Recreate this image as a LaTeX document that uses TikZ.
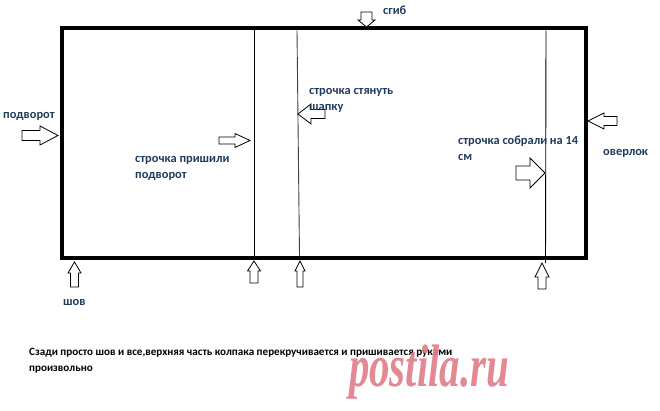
\documentclass[tikz,border=0pt]{standalone}
\usepackage{fontspec}
\setmainfont{Carlito}
\newfontfamily\wmfont{Liberation Serif}
\definecolor{lbl}{HTML}{1F3A5C}
\definecolor{wm}{RGB}{224,124,136}
\tikzset{
  arr/.style={draw=black, fill=white, line width=0.8pt, line join=miter},
  lab/.style={text=lbl, font=\bfseries\fontsize{12.4}{16}\selectfont, inner sep=0pt, anchor=west, align=left},
  seam/.style={line width=0.9pt},
}
% #1 name, #2 x, #3 y (tail centre), #4 rotation, #5 length, #6 head width, #7 shaft width, #8 head length
\newcommand\blockarrow[8]{%
  \begin{scope}[shift={(#2,#3)}, rotate=#4]
    \coordinate (#1) at (0,0);
    \draw[arr] (0,-#7/2) -- (#5-#8,-#7/2) -- (#5-#8,-#6/2) -- (#5,0)
      -- (#5-#8,#6/2) -- (#5-#8,#7/2) -- (0,#7/2) -- cycle;
  \end{scope}}
\begin{document}
\begin{tikzpicture}[x=1pt,y=-1pt]
\useasboundingbox (0,0) rectangle (660,411);
% outer rectangle
\coordinate (tl) at (62,28.5);
\coordinate (br) at (586,258);
\draw[line width=4pt] (tl) rectangle (br);
% seams
\coordinate (s1t) at (254,30.5); \coordinate (s1b) at (254,256);
\coordinate (s2t) at (297,30.5); \coordinate (s2b) at (299.5,256);
\coordinate (s3t) at (546,30.5); \coordinate (s3b) at (545.5,263);
\draw[seam] (s1t) -- (s1b);
\draw[seam, black!75] (s2t) -- (s2b);
\draw[seam] (s3t) -- (s3b);
% arrows
\blockarrow{agib}{366.5}{12}{-90}{15}{17}{11}{7}
\blockarrow{apod}{22}{135.5}{0}{36}{19}{10}{18}
\blockarrow{a1}{219}{140.5}{0}{31}{14}{7}{15}
\blockarrow{a2}{325}{114}{180}{27}{20}{9}{13}
\blockarrow{aov}{617}{121}{180}{29}{16}{9}{16}
\blockarrow{a3}{516}{173}{0}{29}{30}{14}{15}
\blockarrow{ash}{74.5}{287}{90}{25}{13}{8}{11}
\blockarrow{ab1}{254}{283}{90}{22}{13}{8}{10}
\blockarrow{ab2}{300}{287}{90}{26}{10}{6}{10}
\blockarrow{ab3}{542}{289}{90}{26}{14}{8}{14}
% labels
\node[lab] (tgib) at (383,10) {сгиб};
\node[lab] (tpod) at (3,116) {подворот};
\node[lab] (t1) at (135,168) {строчка пришили\\подворот};
\node[lab] (t2) at (309,100) {строчка стянуть\\шапку};
\node[lab] (t3) at (458,148.5) {строчка собрали на 14\\см};
\node[lab] (tov) at (603,153.5) {оверлок};
\node[lab] (tsh) at (63,302) {шов};
\node[inner sep=0pt, anchor=west, align=left, font=\bfseries\fontsize{11.1}{16}\selectfont] (note) at (29,361)
  {Сзади просто шов и все,верхняя часть колпака перекручивается и пришивается руками\\произвольно};
% watermark
\node[text=wm, opacity=0.9, inner sep=0pt, anchor=base west, font=\wmfont\bfseries\itshape\fontsize{60}{60}\selectfont, xscale=0.68] (wmark) at (349,386) {postila.ru};
\end{tikzpicture}
\end{document}
